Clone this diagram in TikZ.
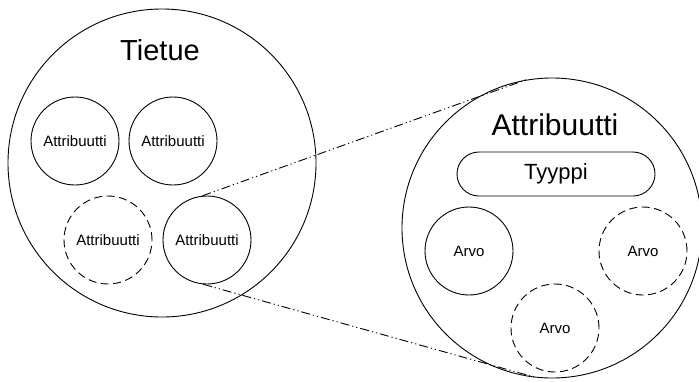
\documentclass[tikz,border=0pt]{standalone}
\usepackage{fontspec}
\setmainfont{Liberation Sans}
\tikzset{
  x=1pt, y=-1pt,
  ring/.style={circle, draw, line width=0.9pt, inner sep=0pt},
  smallring/.style={ring, minimum size=88pt, font=\fontsize{15}{18}\selectfont},
  optional/.style={dash pattern=on 8pt off 4.5pt},
  zoomline/.style={line width=0.9pt, dash pattern=on 9pt off 3pt on 1.2pt off 3pt on 1.2pt off 3pt},
  title/.style={inner sep=0pt, font=\fontsize{30}{36}\selectfont},
}
\begin{document}
\begin{tikzpicture}
\useasboundingbox (0,0) rectangle (699,381);
\clip (0,0) rectangle (699,381);

% record with its attributes
\node[ring, minimum size=308pt] (rec) at (162,163) {};
\node[title, font=\fontsize{29}{35}\selectfont] (rectitle) at (160,50) {Tietue};
\node[smallring] (a1) at (75,141) {Attribuutti};
\node[smallring] (a2) at (173,141) {Attribuutti};
\node[smallring, optional] (a3) at (108,240) {Attribuutti};
\node[smallring] (a4) at (207,240) {Attribuutti};

% enlarged attribute
\node[ring, minimum size=300pt] (attr) at (552,228) {};
\node[title] (attrtitle) at (555,125) {Attribuutti};
\node[draw, line width=0.9pt, rounded corners=22pt, minimum width=198pt, minimum height=44pt,
      font=\fontsize{22}{26}\selectfont] (type) at (556,174) {Tyyppi};
\node[smallring] (v1) at (469,251) {Arvo};
\node[smallring, optional] (v2) at (643,251) {Arvo};
\node[smallring, optional] (v3) at (555,328) {Arvo};

% zoom lines
\draw[zoomline] (a4.96) -- (attr.100);
\draw[zoomline] (a4.265) -- (attr.264);
\end{tikzpicture}
\end{document}
